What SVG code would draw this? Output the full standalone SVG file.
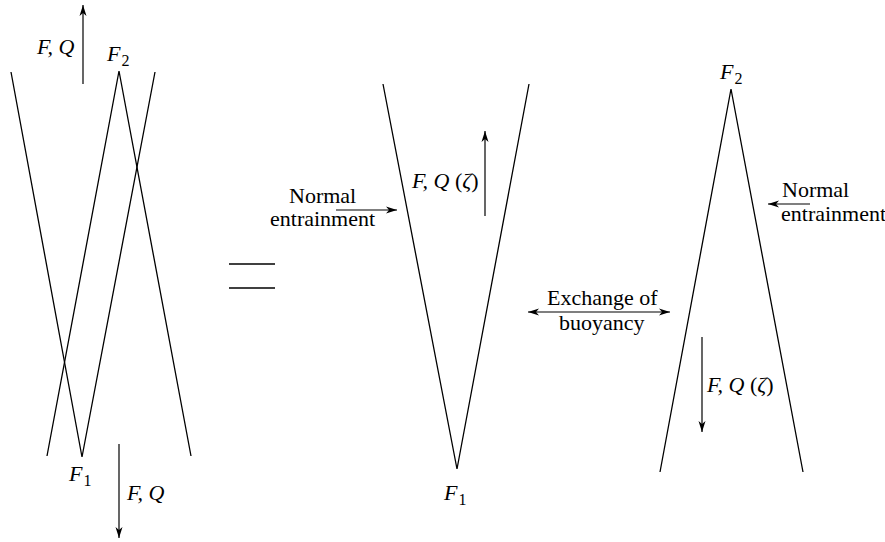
<svg xmlns="http://www.w3.org/2000/svg" width="885" height="542" viewBox="0 0 885 542">
<defs>
<style>
.l{stroke:#000;stroke-width:1.3;fill:none}
.a{stroke:#000;stroke-width:1.2;fill:none;marker-end:url(#ah)}
.t{font-family:"Liberation Serif","Times New Roman",serif;font-size:22px;fill:#000}
.i{font-style:italic}
.s{font-size:16px;font-style:normal}
</style>
<marker id="ah" viewBox="0 0 12 8" refX="11" refY="4" markerWidth="12" markerHeight="8" markerUnits="userSpaceOnUse" orient="auto-start-reverse">
<path d="M0,0.5 L11,4 L0,7.5 L3,4 Z" fill="#000"/>
</marker>
</defs>
<rect width="885" height="542" fill="#fff"/>
<g id="left-plumes">
<polyline class="l" points="11,72 82,457 155,72"/>
<polyline class="l" points="47,456 119,71 191,456"/>
</g>
<g id="equals">
<line class="l" x1="229" y1="264" x2="275" y2="264"/>
<line class="l" x1="229" y1="288" x2="275" y2="288"/>
</g>
<g id="middle-plume">
<polyline class="l" points="383,84 457,469 529,84"/>
</g>
<g id="right-plume">
<polyline class="l" points="660,472 731,89 803,472"/>
</g>
<g id="connectors">
<line class="a" x1="83" y1="84" x2="83" y2="5"/>
<line class="a" x1="119" y1="444" x2="119" y2="538"/>
<line class="a" x1="336" y1="210" x2="397" y2="210"/>
<line class="a" x1="485" y1="216" x2="485" y2="131"/>
<line class="a" style="marker-start:url(#ah)" x1="528" y1="312" x2="670" y2="312"/>
<line class="a" x1="810" y1="204" x2="768" y2="204"/>
<line class="a" x1="702" y1="337" x2="702" y2="432"/>
</g>
<g id="labels">
<text class="t i" x="37" y="54">F, Q</text>
<text class="t i" x="107" y="61">F<tspan class="s" dx="1" dy="5">2</tspan></text>
<text class="t i" x="69" y="481">F<tspan class="s" dx="1" dy="5">1</tspan></text>
<text class="t i" x="127" y="500">F, Q</text>
<text class="t" x="289" y="203">Normal</text>
<text class="t" x="270" y="226">entrainment</text>
<text class="t" x="412" y="188"><tspan class="i">F, Q</tspan> (<tspan class="i">ζ</tspan>)</text>
<text class="t i" x="444" y="500">F<tspan class="s" dx="1" dy="5">1</tspan></text>
<text class="t" x="547" y="305">Exchange of</text>
<text class="t" x="559" y="330">buoyancy</text>
<text class="t i" x="720" y="79">F<tspan class="s" dx="1" dy="5">2</tspan></text>
<text class="t" x="782" y="197">Normal</text>
<text class="t" x="781" y="221">entrainment</text>
<text class="t" x="707" y="392"><tspan class="i">F, Q</tspan> (<tspan class="i">ζ</tspan>)</text>
</g>
</svg>
